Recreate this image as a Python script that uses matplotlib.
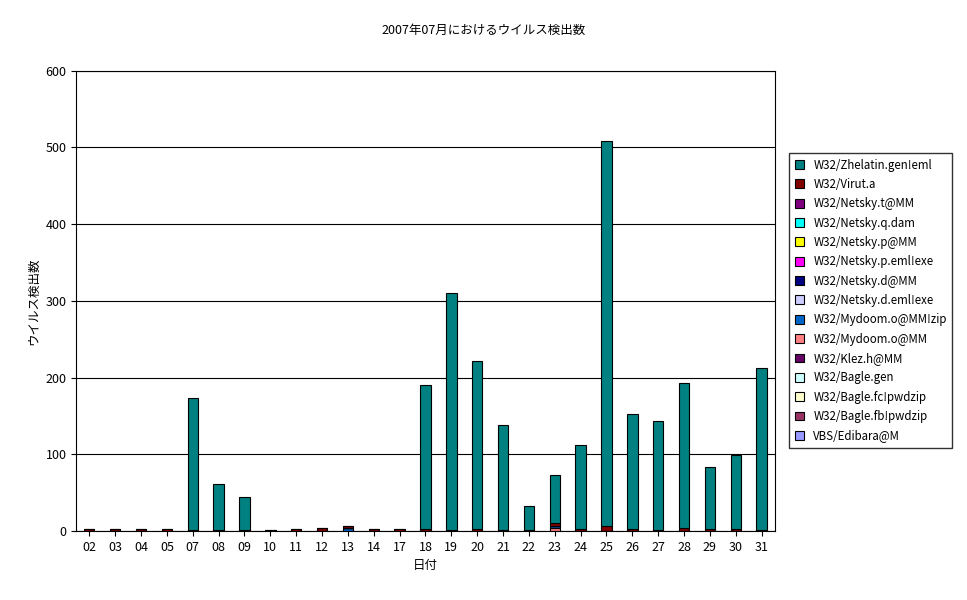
import numpy as np
import matplotlib.pyplot as plt

plt.rcParams['font.family'] = ['Noto Sans CJK JP', 'DejaVu Sans']

days = ['02', '03', '04', '05', '07', '08', '09', '10', '11', '12', '13', '14', '17', '18',
        '19', '20', '21', '22', '23', '24', '25', '26', '27', '28', '29', '30', '31']
names = ['W32/Zhelatin.gen!eml', 'W32/Virut.a', 'W32/Netsky.t@MM', 'W32/Netsky.q.dam',
         'W32/Netsky.p@MM', 'W32/Netsky.p.eml!exe', 'W32/Netsky.d@MM', 'W32/Netsky.d.eml!exe',
         'W32/Mydoom.o@MM!zip', 'W32/Mydoom.o@MM', 'W32/Klez.h@MM', 'W32/Bagle.gen',
         'W32/Bagle.fc!pwdzip', 'W32/Bagle.fb!pwdzip', 'VBS/Edibara@M']
colors = ['#008080', '#800000', '#800080', '#00FFFF', '#FFFF00', '#FF00FF', '#000080',
          '#CCCCFF', '#0066CC', '#FF8080', '#660066', '#CCFFFF', '#FFFFCC', '#993366', '#9999FF']

zhelatin = [0, 0, 0, 0, 172, 60, 43, 0, 0, 0, 0, 0, 0, 189, 309, 219, 137, 32, 63, 109, 502,
            149, 143, 189, 80, 96, 211]
virut = [2, 2, 2, 2, 1, 1, 1, 1, 2, 4, 2, 2, 2, 2, 1, 3, 1, 1, 4, 3, 6, 3, 1, 4, 3, 3, 1]
mydoom_zip = [0] * 10 + [4] + [0] * 7 + [2] + [0] * 8
mydoom_mm = [0] * 18 + [4] + [0] * 8
zero = [0] * len(days)
series = [zhelatin, virut, zero, zero, zero, zero, zero, zero, mydoom_zip, mydoom_mm,
          zero, zero, zero, zero, zero]

fig = plt.figure(figsize=(9.67, 6.0), dpi=100)
ax = fig.add_axes([0.079, 0.115, 0.722, 0.767])
x = np.arange(len(days))
bottom = np.zeros(len(days))
handles = []
for i in range(len(series) - 1, -1, -1):
    vals = np.array(series[i], dtype=float)
    b = ax.bar(x, vals, 0.4, bottom=bottom, color=colors[i], edgecolor='black', linewidth=0.8,
               label=names[i])
    handles.insert(0, b)
    bottom += vals

ax.set_xlim(-0.5, len(days) - 0.5)
ax.set_ylim(0, 600)
ax.set_yticks(range(0, 601, 100))
ax.set_xticks(x)
ax.set_xticklabels(days)
ax.yaxis.grid(True, color='black', linewidth=0.8)
ax.set_axisbelow(True)
ax.tick_params(labelsize=9, direction='out')
ax.set_xlabel('日付', fontsize=9)
ax.set_ylabel('ウイルス検出数', fontsize=9)
fig.suptitle('2007年07月におけるウイルス検出数', fontsize=9, y=0.96)
fig.legend(handles, names, loc='upper left', bbox_to_anchor=(0.81, 0.755), fontsize=8.3,
           frameon=True, edgecolor='black', fancybox=False, handlelength=0.8,
           handleheight=0.8, labelspacing=0.55, borderpad=0.5)
fig.savefig('out.png')
